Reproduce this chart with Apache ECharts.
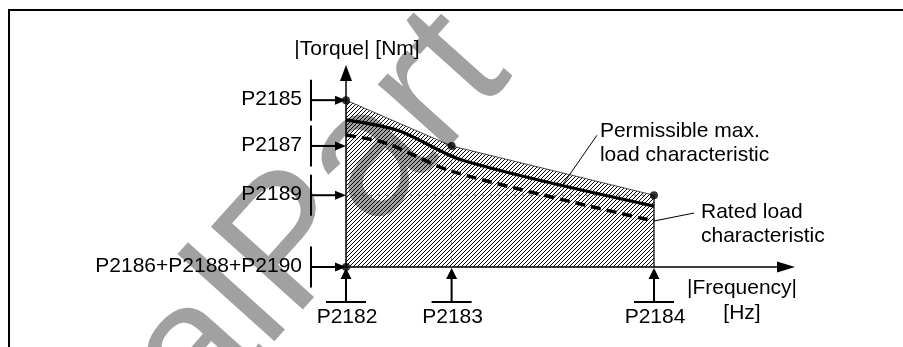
<!DOCTYPE html>
<html>
<head>
<meta charset="utf-8">
<style>
  html, body { margin: 0; padding: 0; background: #fff; }
  #chart { width: 903px; height: 347px; }
</style>
<script src="https://cdn.jsdelivr.net/npm/echarts/dist/echarts.min.js"></script>
</head>
<body>
<div id="chart"></div>
<script>
// Frequency break points (P2182..P2184) on the |Frequency| axis
const freqNames = ['P2182', 'P2183', 'P2184'];
const freqValues = [0, 24, 70];

// Torque thresholds shown on the |Torque| axis
const torqueNames = ['P2185', 'P2187', 'P2189', 'P2186+P2188+P2190'];
const torqueValues = [86, 62.4, 37, 0];

// Upper limit of the monitored band (dots at the break points)
const bandFreq = [0, 24, 70];
const bandTorque = [86, 62.4, 37];

// Permissible max. load characteristic (solid)
const maxLoadFreq = [0, 12, 26.5, 70];
const maxLoadTorque = [75.8, 70.2, 55, 31.4];

// Rated load characteristic (dashed)
const ratedFreq = [0, 9, 24.5, 70];
const ratedTorque = [68, 63.9, 49, 23.7];

const FONT = '21px "Liberation Sans", Arial, Helvetica, sans-serif';
const zip = (xs, ys) => xs.map((x, i) => [x, ys[i]]);

function interp(xs, ys, x) {
  for (let i = 1; i < xs.length; i++) {
    if (x <= xs[i]) {
      const t = (x - xs[i - 1]) / (xs[i] - xs[i - 1]);
      return ys[i - 1] + t * (ys[i] - ys[i - 1]);
    }
  }
  return ys[ys.length - 1];
}

// Diagonal hatch tile for the band area
function hatchTile(step) {
  const c = document.createElement('canvas');
  c.width = step; c.height = step;
  const g = c.getContext('2d');
  g.strokeStyle = '#000';
  g.lineWidth = 1;
  g.beginPath();
  g.moveTo(-1, step + 1); g.lineTo(step + 1, -1);
  g.moveTo(-1, 1); g.lineTo(1, -1);
  g.moveTo(step - 1, step + 1); g.lineTo(step + 1, step - 1);
  g.stroke();
  return c;
}

const lastF = bandFreq[bandFreq.length - 1];
const lastT = bandTorque[bandTorque.length - 1];

// Callout anchors sit on the characteristics
const calloutFreqMax = 49.3;
const callouts = [
  { value: [calloutFreqMax, interp(maxLoadFreq, maxLoadTorque, calloutFreqMax)],
    lines: ['Permissible max.', 'load characteristic'], lead: [34, -49], text: [37, -53] },
  { value: [ratedFreq[ratedFreq.length - 1], ratedTorque[ratedTorque.length - 1]],
    lines: ['Rated load', 'characteristic'], lead: [40, -8], text: [47, -9] }
];

const chart = echarts.init(document.getElementById('chart'), null, { renderer: 'canvas' });

chart.setOption({
  animation: false,
  backgroundColor: '#fff',
  grid: { left: 346, right: 117, top: 73, bottom: 80 },
  xAxis: {
    type: 'value', min: 0, max: 100,
    axisLine: { show: true, lineStyle: { color: '#000', width: 1.5 },
      symbol: ['none', 'triangle'], symbolSize: [11, 18] },
    axisTick: { show: false }, axisLabel: { show: false }, splitLine: { show: false }
  },
  yAxis: {
    type: 'value', min: 0, max: 100,
    name: '|Torque| [Nm]', nameLocation: 'end', nameGap: 13,
    nameTextStyle: { fontFamily: '"Liberation Sans", Arial, sans-serif', fontSize: 21, color: '#000',
      padding: [0, 0, 0, 22] },
    axisLine: { show: true, lineStyle: { color: '#000', width: 1.5 },
      symbol: ['none', 'triangle'], symbolSize: [12, 16] },
    axisTick: { show: false }, axisLabel: { show: false }, splitLine: { show: false }
  },
  graphic: [
    { type: 'polyline', z: 50, silent: true,
      shape: { points: [[9, 347], [9, 10], [903, 10]] },
      style: { stroke: '#000', lineWidth: 2, fill: null } },
    { type: 'text', z: 200, silent: true,
      x: -139, y: 726, rotation: 48 * Math.PI / 180,
      style: { text: 'ManualPart', font: '180px "Liberation Sans", Arial, sans-serif',
        fill: 'rgba(0,0,0,0.37)', align: 'left', verticalAlign: 'middle' } }
  ],
  series: [
    { // hatched band
      type: 'line', data: zip(bandFreq, bandTorque), symbol: 'none', z: 1,
      lineStyle: { color: '#222', width: 0.8 },
      areaStyle: { color: { image: hatchTile(4), repeat: 'repeat' }, opacity: 1 }
    },
    { // right edge of the band
      type: 'line', data: [[lastF, lastT], [lastF, 0]], symbol: 'none', z: 2,
      lineStyle: { color: '#000', width: 1.2 }
    },
    { // guide at P2189
      type: 'line', data: [[freqValues[0], torqueValues[2]], [freqValues[2], torqueValues[2]]],
      symbol: 'none', z: 2, lineStyle: { color: '#777', width: 1, type: [2, 6] }
    },
    { // guide at P2183
      type: 'line', data: [[freqValues[1], torqueValues[1]], [freqValues[1], 0]],
      symbol: 'none', z: 2, lineStyle: { color: '#777', width: 1, type: [2, 6] }
    },
    { // permissible max. load characteristic
      type: 'line', data: zip(maxLoadFreq, maxLoadTorque), symbol: 'none', smooth: 0.3, z: 3,
      lineStyle: { color: '#000', width: 3.2 }
    },
    { // rated load characteristic
      type: 'line', data: zip(ratedFreq, ratedTorque), symbol: 'none', smooth: 0.3, z: 3,
      lineStyle: { color: '#000', width: 3.5, type: [10, 6] }
    },
    { // break-point dots
      type: 'scatter', symbol: 'circle', symbolSize: 8, z: 5,
      itemStyle: { color: '#000' },
      data: zip(bandFreq, bandTorque).concat([[0, 0]])
    },
    { // torque threshold markers
      type: 'custom', z: 6, clip: false,
      data: torqueValues.map(v => [0, v]),
      renderItem(params, api) {
        const p = api.coord([api.value(0), api.value(1)]);
        const x0 = p[0], y = p[1], bx = x0 - 35;
        return { type: 'group', children: [
          { type: 'line', shape: { x1: bx, y1: y - 20.5, x2: bx, y2: y + 20.5 },
            style: { stroke: '#000', lineWidth: 2 } },
          { type: 'line', shape: { x1: bx, y1: y, x2: x0 - 8, y2: y },
            style: { stroke: '#000', lineWidth: 2 } },
          { type: 'polygon', shape: { points: [[x0 - 11, y - 4.5], [x0, y], [x0 - 11, y + 4.5]] },
            style: { fill: '#000' } },
          { type: 'text', style: { text: torqueNames[params.dataIndex], x: bx - 9, y: y - 1,
            align: 'right', verticalAlign: 'middle', font: FONT, fill: '#000' } }
        ] };
      }
    },
    { // frequency break-point markers
      type: 'custom', z: 6, clip: false,
      data: freqValues.map(v => [v, 0]),
      renderItem(params, api) {
        const p = api.coord([api.value(0), api.value(1)]);
        const x = p[0], y0 = p[1] + 1;
        return { type: 'group', children: [
          { type: 'line', shape: { x1: x, y1: y0 + 34, x2: x, y2: y0 + 8 },
            style: { stroke: '#000', lineWidth: 2 } },
          { type: 'polygon', shape: { points: [[x - 5.5, y0 + 11], [x, y0], [x + 5.5, y0 + 11]] },
            style: { fill: '#000' } },
          { type: 'line', shape: { x1: x - 20, y1: y0 + 34, x2: x + 20, y2: y0 + 34 },
            style: { stroke: '#000', lineWidth: 2 } },
          { type: 'text', style: { text: freqNames[params.dataIndex], x: x + 1, y: y0 + 49,
            align: 'center', verticalAlign: 'middle', font: FONT, fill: '#000' } }
        ] };
      }
    },
    { // frequency axis title below the arrow
      type: 'custom', z: 6, clip: false,
      data: [[100, 0]],
      renderItem(params, api) {
        const p = api.coord([api.value(0), api.value(1)]);
        return { type: 'group', children: [
          { type: 'text', style: { text: '|Frequency|', x: p[0] - 44, y: p[1] + 21,
            align: 'center', verticalAlign: 'middle', font: FONT, fill: '#000' } },
          { type: 'text', style: { text: '[Hz]', x: p[0] - 44, y: p[1] + 46,
            align: 'center', verticalAlign: 'middle', font: FONT, fill: '#000' } }
        ] };
      }
    },
    { // characteristic callouts
      type: 'custom', z: 6, clip: false,
      data: callouts.map(c => c.value),
      renderItem(params, api) {
        const c = callouts[params.dataIndex];
        const p = api.coord([api.value(0), api.value(1)]);
        return { type: 'group', children: [
          { type: 'line', shape: { x1: p[0], y1: p[1], x2: p[0] + c.lead[0], y2: p[1] + c.lead[1] },
            style: { stroke: '#000', lineWidth: 1 } },
          { type: 'text', style: { text: c.lines[0], x: p[0] + c.text[0], y: p[1] + c.text[1],
            align: 'left', verticalAlign: 'middle', font: FONT, fill: '#000' } },
          { type: 'text', style: { text: c.lines[1], x: p[0] + c.text[0], y: p[1] + c.text[1] + 24,
            align: 'left', verticalAlign: 'middle', font: FONT, fill: '#000' } }
        ] };
      }
    }
  ]
});
</script>
</body>
</html>
